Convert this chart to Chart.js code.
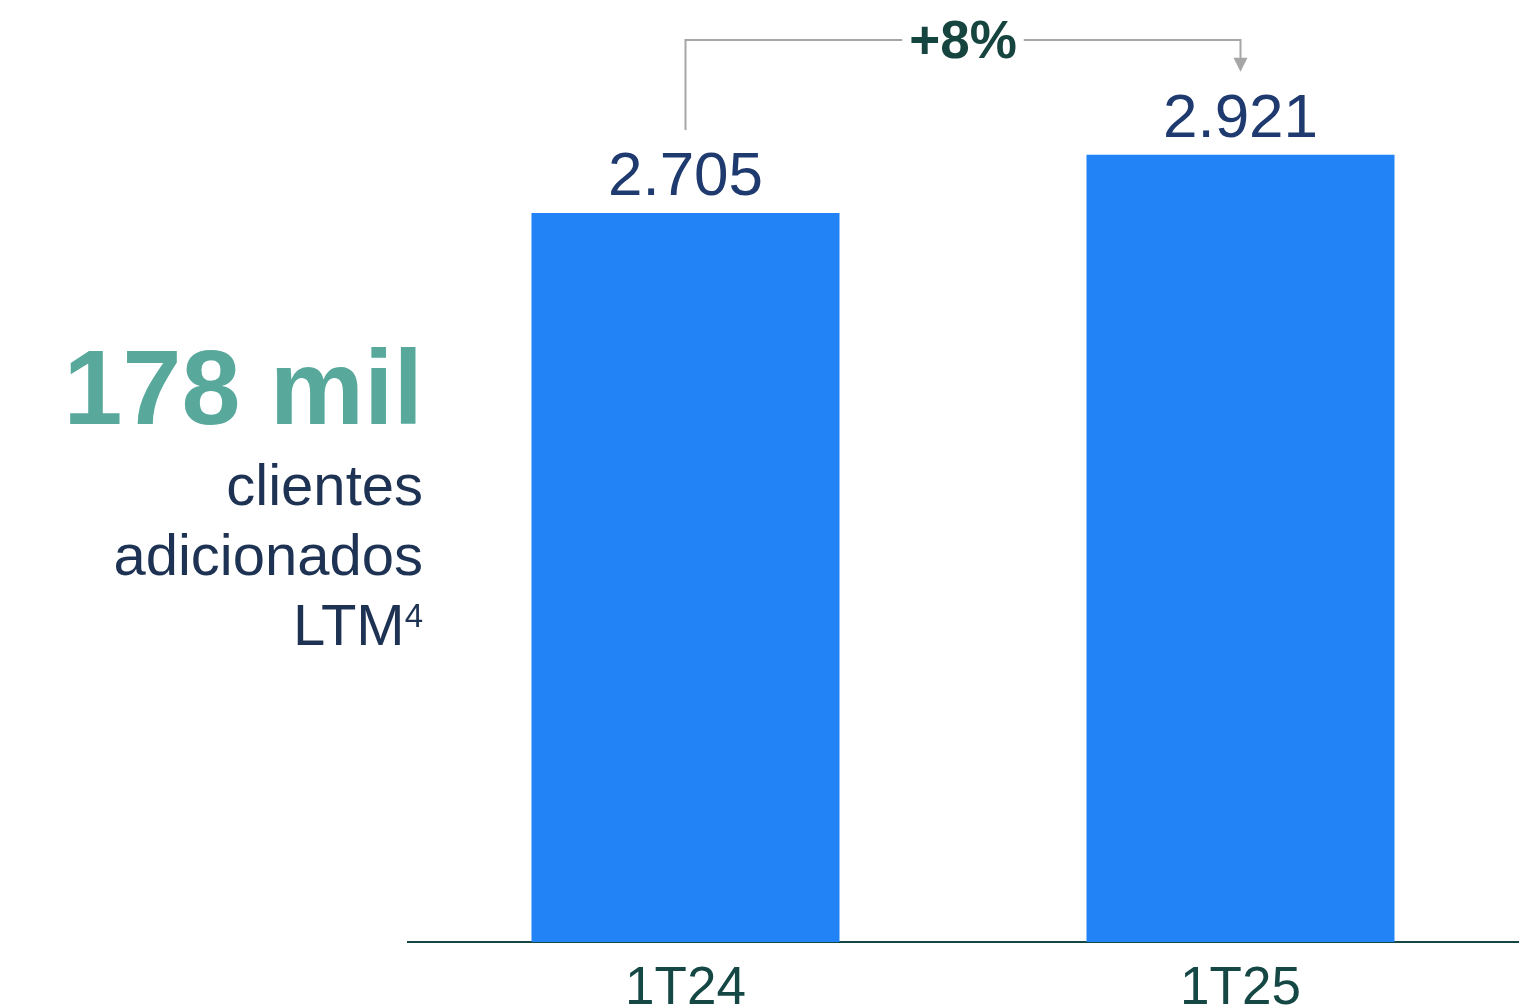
<!DOCTYPE html>
<html>
<head>
<meta charset="utf-8">
<script src="https://cdn.jsdelivr.net/npm/chart.js@4"></script>
<style>
  html, body { margin: 0; padding: 0; background: #fff; }
  #wrap { position: relative; width: 1538px; height: 1008px; overflow: hidden; font-family: "Liberation Sans", Arial, sans-serif; }
  #chart { position: absolute; left: 0; top: 0; }
  .side { position: absolute; right: 1115px; text-align: right; white-space: nowrap; }
  .big { top: 334px; font-size: 106px; line-height: 106px; font-weight: bold; color: #58A99C; }
  .sub { font-size: 58px; line-height: 70px; color: #1E3353; }
  .sub sup { font-size: 33px; vertical-align: 18px; line-height: 0; }
</style>
</head>
<body>
<div id="wrap">
  <canvas id="chart" width="1538" height="1008"></canvas>
  <div class="side big">178 mil</div>
  <div class="side sub" style="top:450px">clientes</div>
  <div class="side sub" style="top:520px">adicionados</div>
  <div class="side sub" style="top:590px">LTM<sup>4</sup></div>
</div>
<script>
// chart data
const CATEGORIES = ['1T24', '1T25'];
const CLIENTES = [2705, 2921];
const Y_MAX = 3495;

const BAR_COLOR = '#2283F6';
const AXIS_COLOR = '#154845';
const LABEL_COLOR = '#1F3A6E';
const FONT = '"Liberation Sans", Arial, sans-serif';

function formatThousands(n) {
  return String(n).replace(/\B(?=(\d{3})+(?!\d))/g, '.');
}

// value labels above bars
const valueLabels = {
  id: 'valueLabels',
  afterDatasetsDraw(chart) {
    const ctx = chart.ctx;
    const meta = chart.getDatasetMeta(0);
    ctx.save();
    ctx.font = '62px ' + FONT;
    ctx.fillStyle = LABEL_COLOR;
    ctx.textAlign = 'center';
    ctx.textBaseline = 'alphabetic';
    meta.data.forEach((bar, i) => {
      ctx.fillText(formatThousands(CLIENTES[i]), bar.x, bar.y - 18);
    });
    ctx.restore();
  }
};

// growth bracket between the two bars
const growthBracket = {
  id: 'growthBracket',
  afterDatasetsDraw(chart) {
    const ctx = chart.ctx;
    const meta = chart.getDatasetMeta(0);
    const a = meta.data[0], b = meta.data[1];
    const topY = 40;
    const startY = a.y - 83;
    const tipY = b.y - 83;
    const pct = Math.round((CLIENTES[1] / CLIENTES[0] - 1) * 100);
    const text = (pct >= 0 ? '+' : '') + pct + '%';

    ctx.save();
    ctx.strokeStyle = '#A6A6A6';
    ctx.fillStyle = '#A6A6A6';
    ctx.lineWidth = 2;
    ctx.beginPath();
    ctx.moveTo(a.x, startY);
    ctx.lineTo(a.x, topY);
    ctx.lineTo(b.x, topY);
    ctx.lineTo(b.x, tipY - 13);
    ctx.stroke();
    ctx.beginPath();
    ctx.moveTo(b.x - 7, tipY - 14);
    ctx.lineTo(b.x + 7, tipY - 14);
    ctx.lineTo(b.x, tipY);
    ctx.closePath();
    ctx.fill();

    const midX = (a.x + b.x) / 2;
    ctx.font = 'bold 53px ' + FONT;
    const w = ctx.measureText(text).width;
    ctx.fillStyle = '#fff';
    ctx.fillRect(midX - w / 2 - 7, topY - 6, w + 14, 12);
    ctx.fillStyle = '#164540';
    ctx.textAlign = 'center';
    ctx.textBaseline = 'alphabetic';
    ctx.fillText(text, midX, 58);
    ctx.restore();
  }
};

new Chart(document.getElementById('chart'), {
  type: 'bar',
  data: {
    labels: CATEGORIES,
    datasets: [{
      data: CLIENTES,
      backgroundColor: BAR_COLOR,
      borderWidth: 0,
      barPercentage: 0.555,
      categoryPercentage: 1,
    }],
  },
  options: {
    responsive: false,
    devicePixelRatio: 1,
    animation: false,
    layout: { padding: { left: 408, right: 20, top: 0, bottom: 0 } },
    plugins: {
      legend: { display: false },
      tooltip: { enabled: false },
    },
    scales: {
      y: { display: false, min: 0, max: Y_MAX },
      x: {
        grid: { display: false, drawTicks: false },
        border: { display: true, color: AXIS_COLOR, width: 2 },
        ticks: { color: AXIS_COLOR, font: { family: FONT, size: 53 }, padding: 16 },
        afterFit: scale => { scale.height = 66; },
      },
    },
  },
  plugins: [valueLabels, growthBracket],
});
</script>
</body>
</html>
